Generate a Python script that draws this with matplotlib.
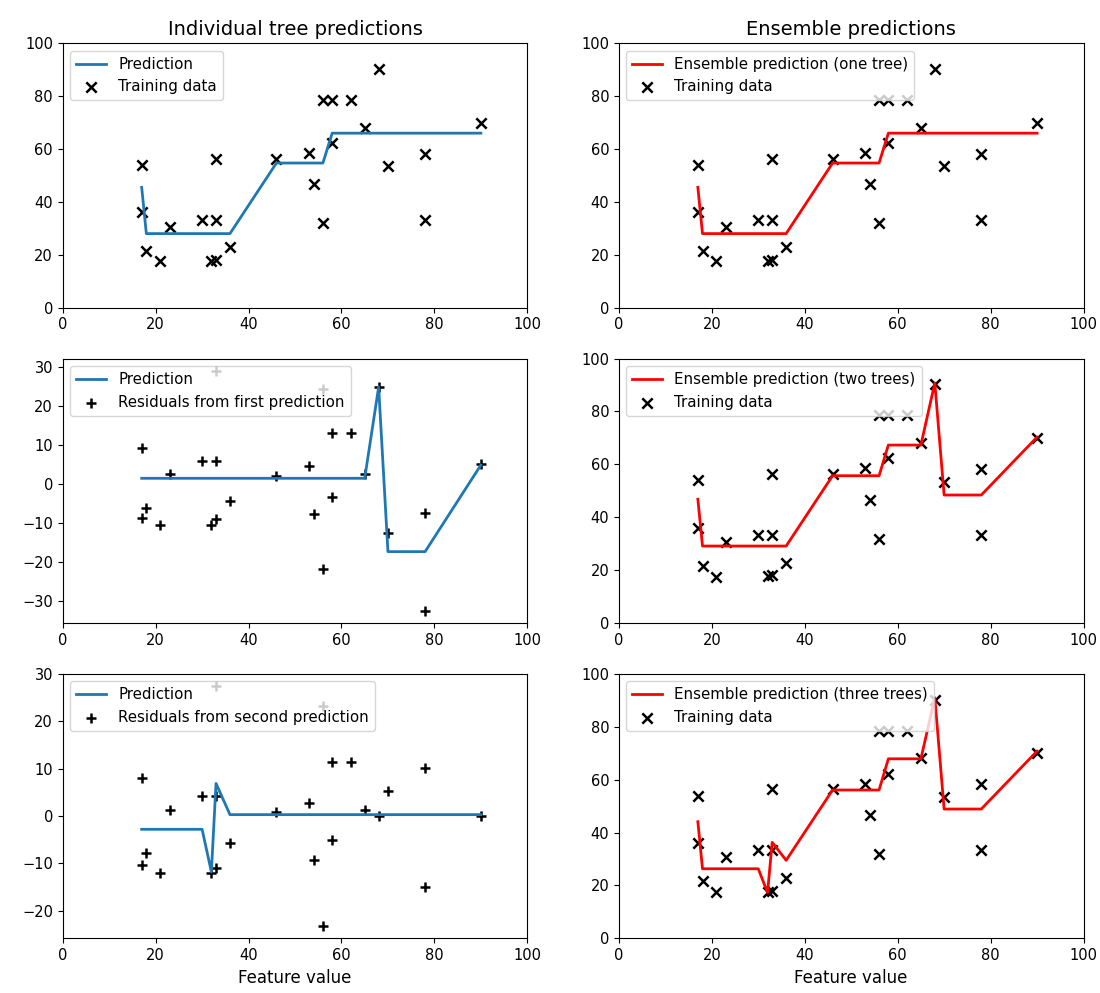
import matplotlib
matplotlib.use("Agg")
import matplotlib.pyplot as plt

# ---- data ----
x_train = [17, 17, 18, 21, 23, 30, 32, 33, 33, 33, 36, 46, 53, 54, 56, 56, 58, 58, 62, 65, 68, 70, 78, 78, 90]
y_train = [54.0, 36.1, 21.5, 17.5, 30.6, 33.3, 17.7, 18.0, 33.3, 56.3, 22.8, 56.3, 58.5, 46.6, 31.9, 78.5,
           78.5, 62.3, 78.5, 68.1, 90.3, 53.4, 58.2, 33.3, 70.0]
resid1 = [9.2, -8.7, -6.3, -10.6, 2.6, 5.8, -10.6, -9.1, 5.8, 29.0, -4.5, 2.1, 4.5, -7.8, -21.9, 24.2,
          12.9, -3.5, 12.9, 2.6, 24.8, -12.5, -7.4, -32.6, 5.0]
resid2 = [8.0, -10.3, -7.8, -12.0, 1.3, 4.3, -12.0, -10.9, 4.3, 27.5, -5.8, 0.9, 2.8, -9.3, -23.3, 23.2,
          11.4, -5.0, 11.4, 1.3, 0.0, 5.2, 10.2, -15.1, 0.0]

line_x = [17, 18, 21, 23, 30, 32, 33, 36, 46, 53, 54, 56, 58, 62, 65, 68, 70, 78, 90]
pred1 = [45.5, 28.0, 28.0, 28.0, 28.0, 28.0, 28.0, 28.0, 54.7, 54.7, 54.7, 54.7, 66.0, 66.0, 66.0, 66.0,
         66.0, 66.0, 66.0]
pred2 = [1.4, 1.4, 1.4, 1.4, 1.4, 1.4, 1.4, 1.4, 1.4, 1.4, 1.4, 1.4, 1.4, 1.4, 1.4, 24.8, -17.4, -17.4, 4.8]
pred3 = [-2.8, -2.8, -2.8, -2.8, -2.8, -11.8, 6.9, 0.3, 0.3, 0.3, 0.3, 0.3, 0.3, 0.3, 0.3, 0.3, 0.3, 0.3, 0.3]
ens1 = pred1
ens2 = [46.8, 29.1, 29.1, 29.1, 29.1, 29.1, 29.1, 29.1, 55.7, 55.7, 55.7, 55.7, 67.3, 67.3, 67.3, 90.8,
        48.4, 48.4, 70.3]
ens3 = [44.1, 26.3, 26.3, 26.3, 26.3, 17.3, 36.3, 29.5, 56.1, 56.1, 56.1, 56.1, 67.9, 67.9, 67.9, 91.0,
        48.9, 48.9, 70.8]

titles = ["Individual tree predictions", "Ensemble predictions"]
ens_labels = ["Ensemble prediction (one tree)", "Ensemble prediction (two trees)",
              "Ensemble prediction (three trees)"]
resid_labels = ["Residuals from first prediction", "Residuals from second prediction"]

fig, axes = plt.subplots(3, 2, figsize=(11, 9.93), dpi=100)
fig.subplots_adjust(left=0.057, right=0.985, top=0.9564, bottom=0.0551, wspace=0.197, hspace=0.193)

mk = dict(s=55, linewidths=1.8)
leg = dict(loc="upper left", fontsize=10.8)

# left column
ax = axes[0, 0]
ax.plot(line_x, pred1, color="#1f77b4", lw=2, label="Prediction")
ax.scatter(x_train, y_train, marker="x", color="k", label="Training data", **mk)
ax.set_xlim(0, 100); ax.set_ylim(0, 100)
ax.legend(**leg)
ax.set_title(titles[0], fontsize=14)

ax = axes[1, 0]
ax.plot(line_x, pred2, color="#1f77b4", lw=2, label="Prediction")
ax.scatter(x_train, resid1, marker="+", color="k", label=resid_labels[0], **mk)
ax.set_xlim(0, 100)
ax.legend(**leg)

ax = axes[2, 0]
ax.plot(line_x, pred3, color="#1f77b4", lw=2, label="Prediction")
ax.scatter(x_train, resid2, marker="+", color="k", label=resid_labels[1], **mk)
ax.set_xlim(0, 100)
ax.legend(**leg)
ax.set_xlabel("Feature value", fontsize=12)

# right column
for i, (ens, lab) in enumerate(zip([ens1, ens2, ens3], ens_labels)):
    ax = axes[i, 1]
    ax.plot(line_x, ens, color="r", lw=2, label=lab)
    ax.scatter(x_train, y_train, marker="x", color="k", label="Training data", **mk)
    ax.set_xlim(0, 100); ax.set_ylim(0, 100)
    ax.legend(**leg)
axes[0, 1].set_title(titles[1], fontsize=14)
axes[2, 1].set_xlabel("Feature value", fontsize=12)

for ax in axes.flat:
    ax.tick_params(labelsize=10.5)

fig.savefig("out.png", dpi=100)
